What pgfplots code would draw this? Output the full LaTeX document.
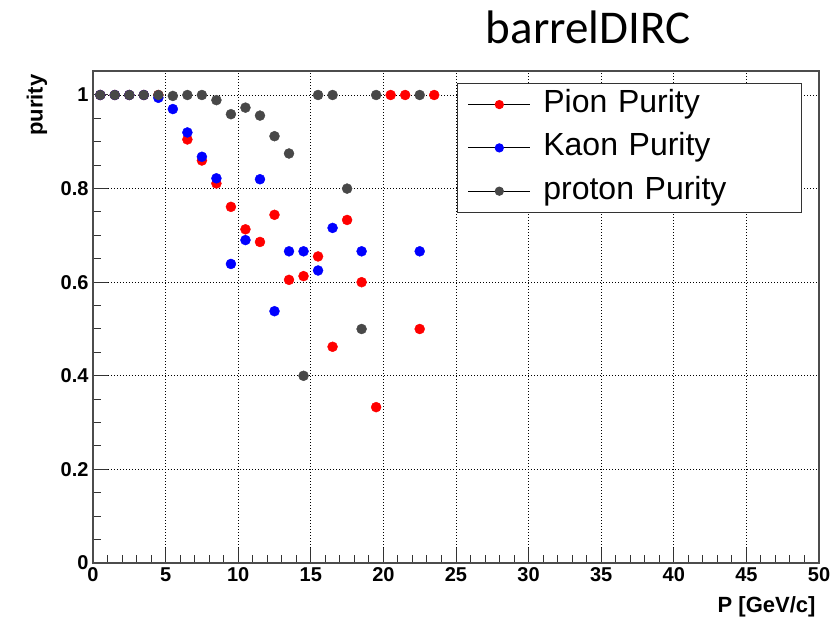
\documentclass[border=0pt]{standalone}
\usepackage{fontspec}
\setmainfont{Liberation Sans}
\newfontfamily\titlefont{Carlito}
\usepackage{pgfplots}
\pgfplotsset{compat=1.18}
\definecolor{protongray}{RGB}{72,72,72}
\begin{document}
\begin{tikzpicture}
\path[use as bounding box] (-93pt,-57pt) rectangle (740pt,563pt);
\begin{axis}[
  at={(0pt,0pt)}, anchor=south west,
  width=726pt, height=492pt, scale only axis,
  xmin=0, xmax=50, ymin=0, ymax=1.0513,
  xtick={0,5,...,50}, ytick={0,0.2,0.4,0.6,0.8,1},
  minor x tick num=4, minor y tick num=3,
  xtick pos=left, ytick pos=left, tick align=inside,
  major tick length=15pt, minor tick length=8pt,
  tick style={black!80, line width=1pt},
  axis line style={black!70, line width=1.3pt},
  grid=major,
  major grid style={black, line width=0.8pt, dash pattern=on 0.9pt off 2.1pt},
  /pgf/number format/assume math mode=true,
  /pgf/number format/fixed,
  ticklabel style={font=\bfseries\fontsize{20}{20}\selectfont},
  yticklabel style={xshift=-1pt},
  xticklabel style={yshift=-1pt},
  xlabel={P [GeV/c]},
  xlabel style={at={(axis description cs:1,0)}, anchor=base east, yshift=-50pt, font=\bfseries\fontsize{22}{22}\selectfont},
  ylabel={purity},
  ylabel style={at={(axis description cs:-0.0771,1)}, anchor=east, rotate=0, font=\bfseries\fontsize{22}{22}\selectfont},
  title={barrelDIRC},
  title style={at={(axis description cs:0.682,1.0427)}, anchor=base, font=\titlefont\fontsize{47}{47}\selectfont},
  legend style={at={(axis description cs:0.501,0.9756)}, anchor=north west,
    draw=black!80, line width=1.2pt, fill=white,
    font=\fontsize{32}{32}\selectfont,
    inner xsep=0pt, inner ysep=6pt, row sep=13.3pt,
    nodes={inner sep=0pt, anchor=base west, text height=23pt, text depth=7pt},
    /tikz/column 2/.style={text width=258pt}},
  legend cell align=left,
]
\addplot[only marks, mark=*, mark size=5pt, color=red,
  legend image code/.code={\path[draw=none] (0pt,0pt) -- (86pt,0pt); \draw[black, line width=0.9pt] (11pt,8pt) -- (73pt,8pt); \fill[red] (42pt,8pt) circle (4pt);}]
  coordinates {
  (0.5,1.0) (1.5,1.0) (2.5,1.0) (3.5,1.0) (4.5,1.0)
  (6.5,0.905) (7.5,0.860) (8.5,0.811) (9.5,0.761) (10.5,0.713)
  (11.5,0.686) (12.5,0.744) (13.5,0.605) (14.5,0.613) (15.5,0.655)
  (16.5,0.462) (17.5,0.733) (18.5,0.600) (19.5,0.333) (20.5,1.0)
  (21.5,1.0) (22.5,0.500) (23.5,1.0)
  };
\addlegendentry{Pion Purity}
\addplot[only marks, mark=*, mark size=5pt, color=blue,
  legend image code/.code={\path[draw=none] (0pt,0pt) -- (86pt,0pt); \draw[black, line width=0.9pt] (11pt,8pt) -- (73pt,8pt); \fill[blue] (42pt,8pt) circle (4pt);}]
  coordinates {
  (0.5,1.0) (1.5,1.0) (2.5,1.0) (3.5,1.0) (4.5,0.994)
  (5.5,0.970) (6.5,0.920) (7.5,0.868) (8.5,0.822) (9.5,0.639)
  (10.5,0.690) (11.5,0.820) (12.5,0.538) (13.5,0.666) (14.5,0.666)
  (15.5,0.625) (16.5,0.716) (18.5,0.666) (22.5,0.666)
  };
\addlegendentry{Kaon Purity}
\addplot[only marks, mark=*, mark size=5pt, color=protongray,
  legend image code/.code={\path[draw=none] (0pt,0pt) -- (86pt,0pt); \draw[black, line width=0.9pt] (11pt,8pt) -- (73pt,8pt); \fill[protongray] (42pt,8pt) circle (4pt);}]
  coordinates {
  (0.5,1.0) (1.5,1.0) (2.5,1.0) (3.5,1.0) (4.5,1.0)
  (5.5,0.998) (6.5,1.0) (7.5,1.0) (8.5,0.989) (9.5,0.959)
  (10.5,0.973) (11.5,0.956) (12.5,0.912) (13.5,0.875) (14.5,0.400)
  (15.5,1.0) (16.5,1.0) (17.5,0.800) (18.5,0.500) (19.5,1.0)
  (22.5,1.0)
  };
\addlegendentry{proton Purity}
\end{axis}
\end{tikzpicture}
\end{document}
